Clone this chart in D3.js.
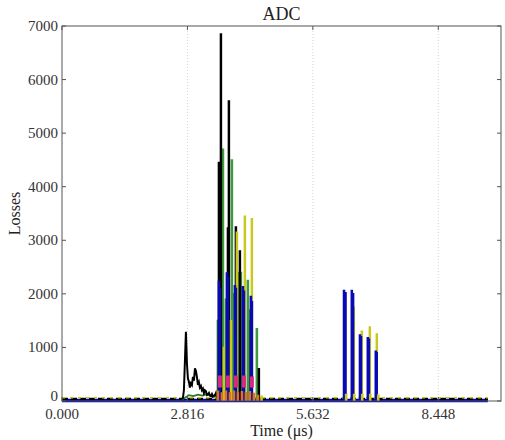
<!DOCTYPE html>
<html><head><meta charset="utf-8">
<script src="https://cdn.jsdelivr.net/npm/d3@7"></script>
<style>body{margin:0;background:#fff}svg{display:block}</style>
</head><body>
<script>
// ---- data ----
const xTickValues = [0, 2.816, 5.632, 8.448];
const xTickLabels = ["0.000", "2.816", "5.632", "8.448"];
const yTickValues = [0, 1000, 2000, 3000, 4000, 5000, 6000, 7000];
const xMax = 9.856, yMax = 7000, dataEnd = 9.56;

// baseline levels (drawn in this order)
const baselineColors = ["#0000c0", "#000000", "#c8c800"];
const baselineValues = [8, 38, 62];

// black halo before the main burst (time, losses)
const blackHaloT = [2.70,2.715,2.737,2.760,2.782,2.805,2.827,2.850,2.872,2.895,2.917,2.940,2.962,2.985,3.007,3.029,3.052,3.074,3.096,3.119,3.141,3.164,3.186,3.209,3.231,3.254,3.276,3.299,3.321,3.344,3.366,3.389,3.411,3.434,3.456,3.48];
const blackHaloV = [40,60,200,750,1290,700,420,360,250,330,300,450,380,610,560,450,300,350,250,280,200,230,150,200,180,110,120,150,100,90,130,80,90,110,150,60];
const greenHaloT = [2.70,2.76,2.85,2.95,3.05,3.15,3.25,3.35,3.45,3.49];
const greenHaloV = [30,60,110,90,120,100,130,90,110,40];

// spikes: [time (µs), losses]
const greenSpikes = [[3.613,4700],[3.814,4500],[3.949,2400],[4.016,2400],[4.173,2250],[4.375,1350],[3.680,1900],[3.860,2000],[4.050,1800],[4.220,1700],[3.500,1500]];
const blackSpikes = [[3.523,4450],[3.568,6850],[3.747,5600],[3.725,3230],[3.904,3250],[3.994,2800],[4.084,2050],[4.241,1500],[4.420,600]];
const yellowSpikes = [[3.927,3150],[4.106,3450],[4.263,3400],[3.635,1000],[3.792,1500],[6.552,1750],[6.731,1300],[6.911,1380],[7.068,1250]];
const blueSpikes = [[3.523,2230],[3.545,2100],[3.702,2390],[3.725,2300],[3.882,2150],[3.904,2100],[4.061,2130],[4.084,2050],[4.241,1950],[4.263,1850],[6.332,2060],[6.365,2020],[6.507,2060],[6.535,2000],[6.690,1230],[6.712,1200],[6.866,1180],[6.890,1150],[7.045,930],[7.065,900]];
const magentaSpikes = [[3.545,450],[3.725,450],[3.904,450],[4.084,450],[4.263,430]];
const orangeSpikes = [[3.500,180],[3.590,150],[3.680,180],[3.770,150],[3.860,180],[3.949,150],[4.040,170],[4.129,150],[4.218,170],[4.308,140],[4.400,100]];
const smallYellowSpikes = [[6.380,120],[6.560,120],[6.740,120],[6.920,120],[7.100,110],[4.480,90]];

// ---- chart ----
const W = 505, H = 440;
const m = {left: 62, right: 4, top: 26, bottom: 39};
const svg = d3.select("body").append("svg").attr("width", W).attr("height", H);
const x = d3.scaleLinear().domain([0, xMax]).range([m.left, W - m.right]);
const y = d3.scaleLinear().domain([0, yMax]).range([H - m.bottom, m.top]);
const font = "'Liberation Serif', 'DejaVu Serif', serif";

// grid
svg.append("g").selectAll("line").data(xTickValues.slice(1)).join("line")
  .attr("x1", d => x(d)).attr("x2", d => x(d)).attr("y1", y(0)).attr("y2", y(yMax))
  .attr("stroke", "#c8c8c8").attr("stroke-width", 0.8).attr("stroke-dasharray", "1,2");

const clip = svg.append("clipPath").attr("id", "c").append("rect")
  .attr("x", m.left).attr("y", m.top).attr("width", W - m.right - m.left).attr("height", y(0) - m.top + 3);
const plot = svg.append("g").attr("clip-path", "url(#c)");

const line = d3.line().x(d => x(d[0])).y(d => y(d[1]));
const w = 0.011;
function spikes(data, color, sw, base) {
  plot.append("g").selectAll("path").data(data).join("path")
    .attr("d", d => line([[d[0]-w, base],[d[0]-w, d[1]],[d[0]+w, d[1]],[d[0]+w, base]]))
    .attr("fill", color).attr("stroke", color).attr("stroke-width", sw);
}

// baselines
const dashes = [null, "6,3", "3,5"];
const widths = [3.5, 2.5, 1.5];
baselineColors.forEach((c, i) => {
  plot.append("path").attr("d", line([[0, baselineValues[i]], [dataEnd, baselineValues[i]]]))
    .attr("fill", "none").attr("stroke", c).attr("stroke-width", widths[i])
    .attr("stroke-dasharray", dashes[i]);
});

plot.append("path").attr("d", line(greenHaloT.map((t, i) => [t, greenHaloV[i]])))
  .attr("fill", "none").attr("stroke", "#2a7a2a").attr("stroke-width", 1.8);
plot.append("path").attr("d", line(blackHaloT.map((t, i) => [t, blackHaloV[i]])))
  .attr("fill", "none").attr("stroke", "#000").attr("stroke-width", 2);

spikes(greenSpikes, "#3f9a3f", 1.6, 0);
spikes(blackSpikes, "#000000", 1.5, 0);
spikes(yellowSpikes, "#c8c81e", 1.5, 0);
spikes(blueSpikes, "#0a0ab4", 1.6, 0);
spikes(magentaSpikes, "#d6288a", 3, 250);
spikes(orangeSpikes, "#e07020", 1.6, 0);
spikes(smallYellowSpikes, "#c8c81e", 1.6, 0);

// frame
svg.append("rect").attr("x", m.left).attr("y", m.top)
  .attr("width", W - m.right - m.left).attr("height", y(0) - m.top)
  .attr("fill", "none").attr("stroke", "#555").attr("stroke-width", 1);

// ticks (inward, all sides)
const tk = 4;
const tg = svg.append("g").attr("stroke", "#555").attr("stroke-width", 1);
xTickValues.forEach(v => {
  tg.append("line").attr("x1", x(v)).attr("x2", x(v)).attr("y1", y(0)).attr("y2", y(0) - tk);
  tg.append("line").attr("x1", x(v)).attr("x2", x(v)).attr("y1", y(yMax)).attr("y2", y(yMax) + tk);
});
yTickValues.forEach(v => {
  tg.append("line").attr("x1", x(0)).attr("x2", x(0) + tk).attr("y1", y(v)).attr("y2", y(v));
  tg.append("line").attr("x1", x(xMax)).attr("x2", x(xMax) - tk).attr("y1", y(v)).attr("y2", y(v));
});

// tick labels
svg.append("g").selectAll("text").data(yTickValues).join("text")
  .attr("x", m.left - 4).attr("y", d => y(d) + (d === 0 ? 0 : 5)).attr("text-anchor", "end")
  .attr("font-family", font).attr("font-size", 15).attr("fill", "#333").text(d => d);
svg.append("g").selectAll("text").data(xTickValues).join("text")
  .attr("x", d => x(d)).attr("y", y(0) + 18).attr("text-anchor", "middle")
  .attr("font-family", font).attr("font-size", 15).attr("fill", "#333").text((d, i) => xTickLabels[i]);

// titles
svg.append("text").attr("x", (m.left + W - m.right) / 2).attr("y", 20).attr("text-anchor", "middle")
  .attr("font-family", font).attr("font-size", 18).attr("fill", "#222").text("ADC");
svg.append("text").attr("x", (m.left + W - m.right) / 2).attr("y", 436).attr("text-anchor", "middle")
  .attr("font-family", font).attr("font-size", 16).attr("fill", "#222").text("Time (μs)");
svg.append("text").attr("transform", `translate(20,${(m.top + y(0)) / 2}) rotate(-90)`)
  .attr("text-anchor", "middle").attr("font-family", font).attr("font-size", 16).attr("fill", "#222").text("Losses");
</script>
</body></html>
